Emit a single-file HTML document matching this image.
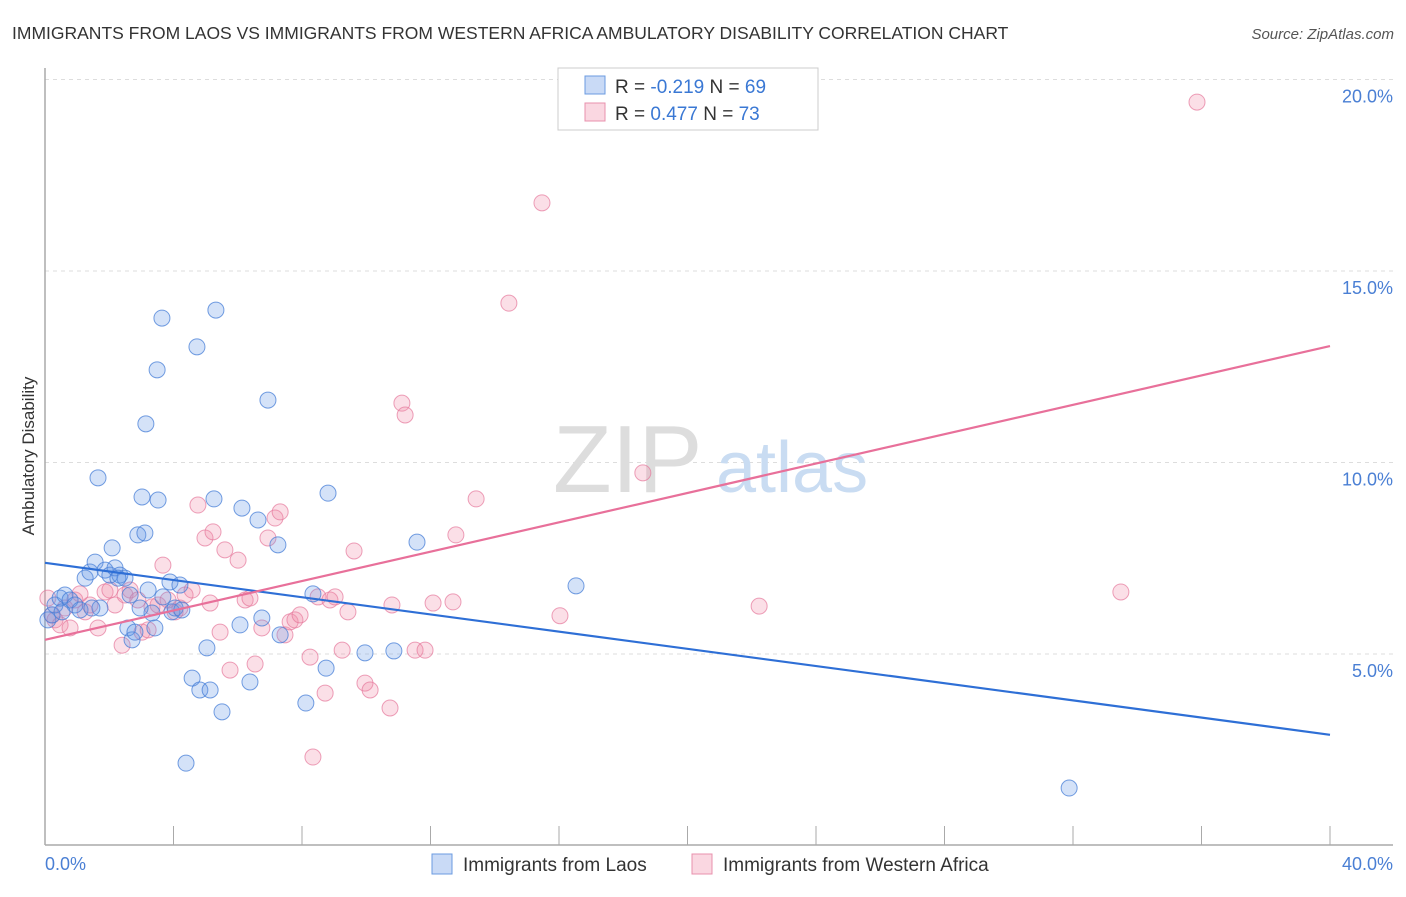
<!DOCTYPE html>
<html><head><meta charset="utf-8"><style>
body{margin:0;background:#fff;font-family:"Liberation Sans",sans-serif}
svg text{font-family:"Liberation Sans",sans-serif}
</style></head><body>
<svg id="chart" width="1406" height="892" xmlns="http://www.w3.org/2000/svg">
<text x="12" y="39" font-size="17.5" fill="#333">IMMIGRANTS FROM LAOS VS IMMIGRANTS FROM WESTERN AFRICA AMBULATORY DISABILITY CORRELATION CHART</text>
<text x="1394" y="39" font-size="15" fill="#555" font-style="italic" text-anchor="end">Source: ZipAtlas.com</text>
<g id="grid"></g>
<g>
<text x="553" y="492" font-size="96" fill="#ddd" font-family="Liberation Serif, serif">ZIP</text>
<text x="716" y="492" font-size="72" fill="#c9dcf2">atlas</text>
</g>
<text transform="translate(34,456) rotate(-90)" font-size="17" fill="#333" text-anchor="middle">Ambulatory Disability</text>
<g id="axes"></g>
<g id="marks"></g>
<g>
<rect x="558" y="68" width="260" height="62" fill="#fff" stroke="#ccc"/>
<rect x="585" y="76" width="20" height="18" fill="rgba(100,150,230,0.35)" stroke="#6b9be0"/>
<rect x="585" y="103" width="20" height="18" fill="rgba(240,140,170,0.35)" stroke="#e890ad"/>
<text x="615" y="93" font-size="19" fill="#333">R = <tspan fill="#3a78d4">-0.219</tspan>   N = <tspan fill="#3a78d4">69</tspan></text>
<text x="615" y="120" font-size="19" fill="#333">R =  <tspan fill="#3a78d4">0.477</tspan>   N = <tspan fill="#3a78d4">73</tspan></text>
</g>
<g>
<rect x="432" y="854" width="20" height="20" fill="rgba(100,150,230,0.35)" stroke="#6b9be0"/>
<text x="463" y="871" font-size="19" fill="#333">Immigrants from Laos</text>
<rect x="692" y="854" width="20" height="20" fill="rgba(240,140,170,0.35)" stroke="#e890ad"/>
<text x="723" y="871" font-size="19" fill="#333">Immigrants from Western Africa</text>
</g>
</svg>
<script>
const blueX=[0.09,0.22,0.31,0.47,0.62,0.78,0.93,1.09,1.25,1.40,1.56,1.65,1.71,1.87,2.02,2.09,2.18,2.33,2.49,2.58,2.65,2.71,2.80,2.89,3.02,3.11,3.14,3.21,3.33,3.42,3.49,3.52,3.64,3.67,3.89,3.95,4.05,4.20,4.26,4.39,4.58,4.73,4.82,5.04,5.14,5.26,5.32,5.51,6.07,6.13,6.38,6.63,6.75,6.94,7.25,7.32,8.12,8.34,8.75,8.81,9.96,10.86,11.58,16.53,31.88,0.53,1.46,2.27,2.96];
const blueY=[5.89,6.02,6.28,6.46,6.54,6.41,6.28,6.15,6.98,7.14,7.40,9.60,6.20,7.19,7.06,7.77,7.25,7.06,6.98,5.68,6.54,5.37,5.57,8.11,9.10,8.16,11.01,6.67,6.07,5.68,12.42,9.02,13.77,6.49,6.88,6.10,6.20,6.80,6.15,2.15,4.37,13.02,4.06,5.16,4.06,9.05,13.98,3.49,5.76,8.81,4.27,8.50,5.94,11.63,7.85,5.50,3.72,6.57,4.63,9.20,5.03,5.08,7.92,6.78,1.50,6.10,6.20,6.98,6.20];
const pinkX=[0.09,0.22,0.31,0.47,0.62,0.78,0.93,1.09,1.25,1.40,1.65,1.87,2.02,2.18,2.40,2.49,2.65,2.89,3.02,3.21,3.33,3.52,3.67,3.83,4.05,4.20,4.36,4.58,4.76,4.98,5.14,5.23,5.45,5.60,5.76,6.01,6.23,6.38,6.54,6.75,6.94,7.16,7.32,7.47,7.63,7.78,7.94,8.25,8.34,8.50,8.72,8.87,9.03,9.25,9.43,9.62,9.96,10.12,10.74,10.80,11.11,11.21,11.52,11.83,12.08,12.70,12.79,13.42,14.44,15.47,16.03,18.61,22.23,33.49,35.86];
const pinkY=[6.46,6.02,5.89,5.76,6.20,5.68,6.41,6.57,6.10,6.28,5.68,6.62,6.67,6.28,5.23,6.54,6.67,6.41,5.57,5.63,6.23,6.28,7.32,6.41,6.10,6.20,6.54,6.67,8.89,8.03,6.33,8.19,5.57,7.72,4.58,7.45,6.41,6.46,4.74,5.68,8.03,8.55,8.71,5.50,5.84,5.89,6.02,4.92,2.31,6.49,3.98,6.41,6.49,5.10,6.10,7.69,4.24,4.06,3.59,6.28,11.55,11.24,5.10,5.10,6.33,6.36,8.11,9.05,14.16,16.78,6.00,9.73,6.25,6.62,19.41];
const blueTrend=[7.38,2.89];
const pinkTrend=[5.37,13.04];
const yTicks=[5,10,15,20];
const yTickLabels=["5.0%","10.0%","15.0%","20.0%"];
const xTicks=[4,8,12,16,20,24,28,32,36,40];
const NS='http://www.w3.org/2000/svg';
const X=v=>45+v*32.125, Y=v=>845.5-v*38.3;
function mk(tag,attrs,parent){const e=document.createElementNS(NS,tag);for(const k in attrs)e.setAttribute(k,attrs[k]);parent.appendChild(e);return e;}
const grid=document.getElementById('grid'),axes=document.getElementById('axes'),marks=document.getElementById('marks');
yTicks.forEach((t,i)=>{
 const l=mk('line',{x1:45,x2:1393,y1:Y(t),y2:Y(t),stroke:'#ddd','stroke-dasharray':'4,4'},grid);
 
 
 const tx=mk('text',{x:1393,y:Y(t)+23,'font-size':18,fill:'#4a7fd4','text-anchor':'end'},axes);
 tx.textContent=yTickLabels[i];
 
 
});
const ya=mk('line',{x1:45,x2:45,y1:68,y2:845,stroke:'#aaa','stroke-width':1.5},axes);


const xa=mk('line',{x1:45,x2:1393,y1:845,y2:845,stroke:'#aaa','stroke-width':1.5},axes);


xTicks.forEach(t=>{
 const l=mk('line',{x1:X(t),x2:X(t),y1:826,y2:845,stroke:'#aaa'},axes);
 
 
});
const x0=mk('text',{x:45,y:870,'font-size':18,fill:'#4a7fd4'},axes);x0.textContent='0.0%';


const x1=mk('text',{x:1393,y:870,'font-size':18,fill:'#4a7fd4','text-anchor':'end'},axes);x1.textContent='40.0%';


pinkX.forEach((v,i)=>{
 const c=mk('circle',{cx:X(v),cy:Y(pinkY[i]),r:8,fill:'rgba(240,140,170,0.28)',stroke:'rgba(230,120,155,0.7)'},marks);
 
 
});
blueX.forEach((v,i)=>{
 const c=mk('circle',{cx:X(v),cy:Y(blueY[i]),r:8,fill:'rgba(100,150,230,0.28)',stroke:'rgba(70,125,215,0.75)'},marks);
 
 
});
const bl=mk('line',{x1:X(0),x2:X(40),y1:Y(blueTrend[0]),y2:Y(blueTrend[1]),stroke:'#2e6fd6','stroke-width':2.2},marks);


const pl=mk('line',{x1:X(0),x2:X(40),y1:Y(pinkTrend[0]),y2:Y(pinkTrend[1]),stroke:'#e8709a','stroke-width':2.2},marks);


</script>
</body></html>
